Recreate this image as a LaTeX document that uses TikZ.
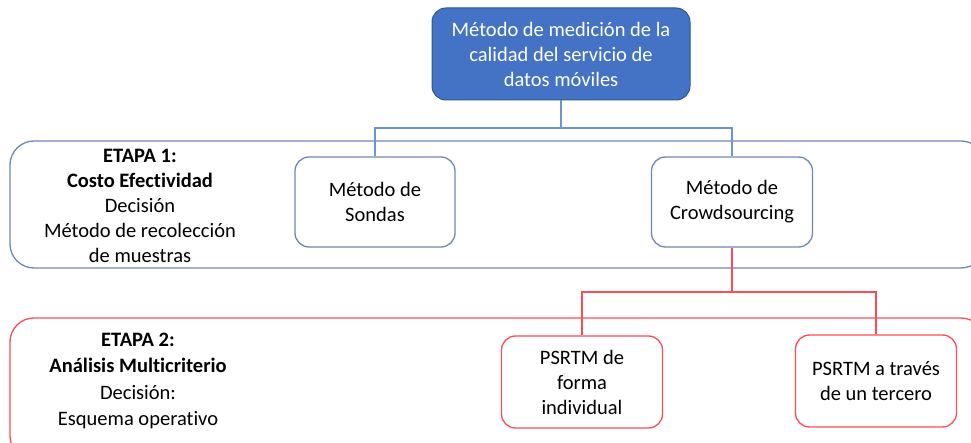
\documentclass[tikz,border=0pt]{standalone}
\usepackage{fontspec}
\setmainfont{Carlito}[Ligatures=NoCommon]
\definecolor{topblue}{HTML}{4472C4}
\definecolor{topedge}{HTML}{2F5597}
\definecolor{bluegray}{HTML}{6F87B5}
\definecolor{blueline}{HTML}{6E94D6}
\definecolor{redline}{HTML}{FF4B55}
\begin{document}
\begin{tikzpicture}[x=1pt,y=-1pt,
  every node/.style={font=\fontsize{20.5}{25}\selectfont, align=center, inner sep=0pt},
  stage/.style={rounded corners=24pt, line width=1.3pt},
  bbox/.style={draw=bluegray, line width=1.3pt, rounded corners=14pt, fill=white},
  rbox/.style={draw=redline, line width=1.3pt, rounded corners=14pt, fill=white},
  bconn/.style={draw=blueline, line width=1.2pt},
  rconn/.style={draw=redline, line width=1.2pt}]
\useasboundingbox (0,0) rectangle (971,443);
% stage frames
\draw[stage, draw=bluegray] (10,141) rectangle (985,268);
\draw[stage, draw=redline] (10,318) rectangle (985,460);
% top node
\node[draw=topedge, fill=topblue, text=white, line width=1pt, rounded corners=14pt,
  minimum width=258pt, minimum height=92pt] (top) at (561,54)
  {Método de medición de la\\calidad del servicio de\\datos móviles};
\node[bbox, minimum width=160pt, minimum height=90pt] (sondas) at (375,202) {Método de\\Sondas};
\node[bbox, minimum width=161pt, minimum height=90pt] (crowd) at (732,202) {Método de\\Crowdsourcing};
\node[rbox, minimum width=161pt, minimum height=92pt] (ind) at (582,382) {PSRTM de\\forma\\individual};
\node[rbox, minimum width=161pt, minimum height=92pt] (ter) at (876,381) {PSRTM a través\\de un tercero};
% stage texts
\node (s1) at (140,206) {\textbf{ETAPA 1:}\\\textbf{Costo Efectividad}\\Decisión\\Método de recolección\\de muestras};
\node[font=\fontsize{20.5}{26.5}\selectfont] (s2) at (138,381) {\textbf{ETAPA 2:}\\\textbf{Análisis Multicriterio}\\Decisión:\\Esquema operativo};
% connectors
\coordinate (b1) at (561,128);
\coordinate (r1) at (732,292);
\draw[bconn] (top.south) -- (b1);
\draw[bconn] (b1) -| (sondas.north);
\draw[bconn] (b1) -| (crowd.north);
\draw[rconn] (crowd.south) -- (r1);
\draw[rconn] (r1) -| (ind.north);
\draw[rconn] (r1) -| (ter.north);
\end{tikzpicture}
\end{document}
